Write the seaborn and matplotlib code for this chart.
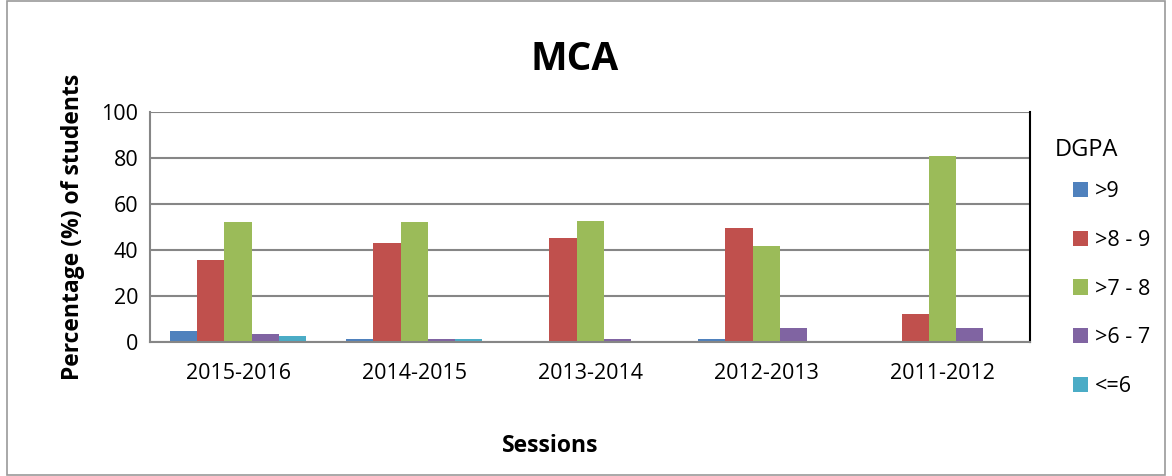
import numpy as np
import pandas as pd
import seaborn as sns
import matplotlib.pyplot as plt
from matplotlib.patches import Rectangle

sessions = ["2015-2016", "2014-2015", "2013-2014", "2012-2013", "2011-2012"]
grades = [">9", ">8 - 9", ">7 - 8", ">6 - 7", "<=6"]
above_9 = [5.0, 1.2, 0.0, 1.2, 0.0]
from_8_to_9 = [35.6, 43.0, 45.3, 49.7, 12.0]
from_7_to_8 = [52.3, 52.0, 52.7, 41.7, 81.0]
from_6_to_7 = [3.4, 1.2, 1.2, 6.0, 6.0]
upto_6 = [2.4, 1.2, 0.0, 0.0, 0.0]
colors = ["#4F81BD", "#C0504D", "#9BBB59", "#8064A2", "#4BACC6"]

rows = []
for grade, vals in zip(grades, [above_9, from_8_to_9, from_7_to_8, from_6_to_7, upto_6]):
    for s, v in zip(sessions, vals):
        rows.append({"Session": s, "DGPA": grade, "Percent": v})
df = pd.DataFrame(rows)

sns.set_style("white")
plt.rcParams["font.family"] = ["Open Sans", "DejaVu Sans"]
plt.rcParams["text.color"] = "black"
plt.rcParams["axes.labelcolor"] = "black"
plt.rcParams["xtick.color"] = "black"
plt.rcParams["ytick.color"] = "black"

fig = plt.figure(figsize=(11.72, 4.76), dpi=100)
ax = fig.add_axes([0.128, 0.2815, 0.751, 0.4832])

sns.barplot(
    data=df,
    x="Session",
    y="Percent",
    hue="DGPA",
    order=sessions,
    hue_order=grades,
    palette=colors,
    width=0.77,
    saturation=1,
    linewidth=0,
    ax=ax,
)

ax.set_ylim(0, 100)
ax.set_yticks(np.arange(0, 101, 20))
ax.yaxis.grid(True, color="#868686", linewidth=1.5)
ax.set_axisbelow(True)
ax.spines["top"].set_visible(False)
ax.spines["left"].set_color("#868686")
ax.spines["bottom"].set_color("#868686")
ax.spines["left"].set_linewidth(1.5)
ax.spines["bottom"].set_linewidth(1.5)
ax.spines["right"].set_color("black")
ax.spines["right"].set_linewidth(1.5)
ax.tick_params(axis="y", length=5, color="#868686", width=1.5, labelsize=15.5)
ax.tick_params(axis="x", length=0, labelsize=15.5, pad=15)

ax.set_xlabel("Sessions", fontsize=16.5, fontweight="bold", labelpad=36, x=0.455)
ax.set_ylabel("Percentage (%) of students", fontsize=16.5, fontweight="bold", labelpad=12)
ax.set_title("MCA", fontsize=28, fontweight="bold", pad=30, x=0.482)

handles, labels = ax.get_legend_handles_labels()
ax.get_legend().remove()
fig.text(1055 / 1172, 1 - 150 / 476, "DGPA", fontsize=17, ha="left", va="center")
fig.legend(
    handles, labels,
    loc="upper left",
    bbox_to_anchor=(1073 / 1172, 1 - 181 / 476),
    frameon=False,
    fontsize=15.5,
    borderpad=0,
    borderaxespad=0,
    labelspacing=1.29,
    handlelength=0.7,
    handleheight=0.7,
    handletextpad=0.3,
)

fig.patches.append(Rectangle((0.006, 0.003), 0.988, 0.994, transform=fig.transFigure,
                             fill=False, edgecolor="#9a9a9a", linewidth=1.2))

fig.savefig("out.png", dpi=100)
plt.close()
